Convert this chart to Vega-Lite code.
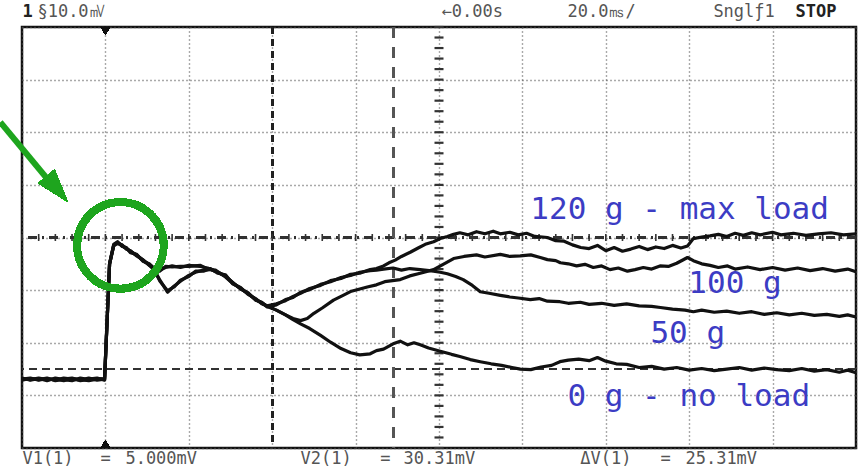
{
  "$schema": "https://vega.github.io/schema/vega-lite/v6.json",
  "width": 834,
  "height": 421,
  "autosize": {"type": "none"},
  "padding": {"left": 22, "top": 27, "right": 4, "bottom": 22},
  "background": "white",
  "config": {
    "view": {"stroke": "#111", "strokeWidth": 2.5},
    "axis": {"gridColor": "#555", "gridDash": [1, 3], "gridWidth": 1.4, "gridOpacity": 1, "labels": false, "ticks": false, "domain": false, "title": null}
  },
  "datasets": {
    "traces": [
      {"s":"0 g","t":-20,"v":3.3},{"s":"0 g","t":-18,"v":2.9},{"s":"0 g","t":-16,"v":3.2},{"s":"0 g","t":-14,"v":2.8},{"s":"0 g","t":-12,"v":3.3},{"s":"0 g","t":-10,"v":3.0},{"s":"0 g","t":-8,"v":2.8},{"s":"0 g","t":-6,"v":3.3},{"s":"0 g","t":-4,"v":3.0},{"s":"0 g","t":-2,"v":3.2},{"s":"0 g","t":-0.2,"v":3.0},{"s":"0 g","t":0.4,"v":14},{"s":"0 g","t":1.0,"v":25},{"s":"0 g","t":2.0,"v":28.6},{"s":"0 g","t":2.9,"v":29.1},{"s":"0 g","t":4.0,"v":28.4},{"s":"0 g","t":5.0,"v":28.0},{"s":"0 g","t":6.0,"v":27.3},{"s":"0 g","t":7.5,"v":26.7},{"s":"0 g","t":9.0,"v":25.6},{"s":"0 g","t":10.5,"v":24.9},{"s":"0 g","t":11.5,"v":24.1},
      {"s":"0 g","t":13.0,"v":22.0},{"s":"0 g","t":14.9,"v":19.6},{"s":"0 g","t":16.5,"v":20.8},{"s":"0 g","t":18.0,"v":21.7},{"s":"0 g","t":20.0,"v":22.8},{"s":"0 g","t":21.6,"v":23.4},{"s":"0 g","t":23.5,"v":23.8},{"s":"0 g","t":25.2,"v":23.9},{"s":"0 g","t":27,"v":23.4},{"s":"0 g","t":28.8,"v":22.7},
      {"s":"0 g","t":30.5,"v":21.4},{"s":"0 g","t":32.4,"v":20.3},{"s":"0 g","t":34.2,"v":19.4},{"s":"0 g","t":36.0,"v":18.2},{"s":"0 g","t":37.5,"v":17.6},{"s":"0 g","t":38.8,"v":16.9},
      {"s":"0 g","t":41,"v":16.2},{"s":"0 g","t":43.2,"v":15.3},{"s":"0 g","t":45,"v":14.4},{"s":"0 g","t":46.8,"v":13.6},{"s":"0 g","t":49,"v":12.7},{"s":"0 g","t":51.6,"v":11.4},{"s":"0 g","t":54,"v":10.1},{"s":"0 g","t":56.5,"v":8.9},{"s":"0 g","t":58.8,"v":8.1},{"s":"0 g","t":61,"v":7.7},{"s":"0 g","t":63.5,"v":7.9},{"s":"0 g","t":65,"v":8.5},{"s":"0 g","t":66.7,"v":8.8},{"s":"0 g","t":69,"v":9.8},{"s":"0 g","t":70.7,"v":10.3},{"s":"0 g","t":72.5,"v":9.6},{"s":"0 g","t":74,"v":10.0},{"s":"0 g","t":75.5,"v":9.6},{"s":"0 g","t":77.5,"v":9.0},{"s":"0 g","t":80.3,"v":8.4},{"s":"0 g","t":83,"v":7.8},{"s":"0 g","t":85,"v":7.4},{"s":"0 g","t":87.5,"v":6.8},{"s":"0 g","t":89.9,"v":6.4},{"s":"0 g","t":92.5,"v":6.0},{"s":"0 g","t":95,"v":5.7},{"s":"0 g","t":97.5,"v":5.3},{"s":"0 g","t":99.5,"v":5.0},{"s":"0 g","t":102,"v":4.9},{"s":"0 g","t":104.5,"v":5.4},{"s":"0 g","t":107,"v":5.7},{"s":"0 g","t":109,"v":6.4},{"s":"0 g","t":111,"v":6.7},{"s":"0 g","t":113.5,"v":6.9},{"s":"0 g","t":116,"v":6.6},{"s":"0 g","t":118,"v":7.2},{"s":"0 g","t":120,"v":6.5},{"s":"0 g","t":122.5,"v":6.0},{"s":"0 g","t":125,"v":5.9},{"s":"0 g","t":128,"v":5.3},{"s":"0 g","t":131,"v":5.5},{"s":"0 g","t":134,"v":5.0},{"s":"0 g","t":137,"v":5.3},{"s":"0 g","t":140,"v":4.8},{"s":"0 g","t":143,"v":5.1},{"s":"0 g","t":146,"v":4.7},{"s":"0 g","t":149,"v":5.0},{"s":"0 g","t":152,"v":5.3},{"s":"0 g","t":155,"v":4.8},{"s":"0 g","t":158,"v":5.2},{"s":"0 g","t":161,"v":4.9},{"s":"0 g","t":164,"v":4.7},{"s":"0 g","t":167,"v":5.1},{"s":"0 g","t":170,"v":4.6},{"s":"0 g","t":173,"v":4.9},{"s":"0 g","t":176,"v":4.4},{"s":"0 g","t":178,"v":4.8},{"s":"0 g","t":180,"v":4.3},

      {"s":"100 g","t":-20,"v":3.1},{"s":"100 g","t":-18,"v":3.3},{"s":"100 g","t":-16,"v":2.9},{"s":"100 g","t":-14,"v":3.2},{"s":"100 g","t":-12,"v":2.9},{"s":"100 g","t":-10,"v":3.3},{"s":"100 g","t":-8,"v":3.1},{"s":"100 g","t":-6,"v":2.9},{"s":"100 g","t":-4,"v":3.3},{"s":"100 g","t":-2,"v":2.9},{"s":"100 g","t":-0.2,"v":3.1},{"s":"100 g","t":0.4,"v":14},{"s":"100 g","t":1.0,"v":25},{"s":"100 g","t":2.0,"v":28.4},{"s":"100 g","t":2.9,"v":28.9},{"s":"100 g","t":4.0,"v":28.6},{"s":"100 g","t":5.0,"v":27.8},{"s":"100 g","t":6.0,"v":27.5},{"s":"100 g","t":7.5,"v":26.5},{"s":"100 g","t":9.0,"v":25.8},{"s":"100 g","t":10.5,"v":24.7},{"s":"100 g","t":11.5,"v":24.2},
      {"s":"100 g","t":13.0,"v":21.8},{"s":"100 g","t":14.9,"v":19.9},{"s":"100 g","t":16.5,"v":20.6},{"s":"100 g","t":18.0,"v":21.9},{"s":"100 g","t":20.0,"v":22.6},{"s":"100 g","t":21.6,"v":23.6},{"s":"100 g","t":23.5,"v":23.6},{"s":"100 g","t":25.2,"v":24.1},{"s":"100 g","t":27,"v":23.2},{"s":"100 g","t":28.8,"v":22.9},
      {"s":"100 g","t":30.5,"v":21.2},{"s":"100 g","t":32.4,"v":20.5},{"s":"100 g","t":34.2,"v":19.2},{"s":"100 g","t":36.0,"v":18.4},{"s":"100 g","t":37.5,"v":17.4},{"s":"100 g","t":38.8,"v":17.0},
      {"s":"100 g","t":41,"v":16.2},{"s":"100 g","t":43.2,"v":15.3},{"s":"100 g","t":45,"v":14.6},{"s":"100 g","t":46.8,"v":14.2},{"s":"100 g","t":48.4,"v":14.6},{"s":"100 g","t":50,"v":15.6},{"s":"100 g","t":52,"v":16.6},{"s":"100 g","t":54.7,"v":18.1},{"s":"100 g","t":57,"v":19.0},{"s":"100 g","t":59,"v":19.8},{"s":"100 g","t":62.8,"v":20.6},{"s":"100 g","t":65,"v":21.0},{"s":"100 g","t":67,"v":21.6},{"s":"100 g","t":70.7,"v":22.0},{"s":"100 g","t":73,"v":22.7},{"s":"100 g","t":75.5,"v":23.2},{"s":"100 g","t":78.7,"v":23.9},{"s":"100 g","t":81,"v":24.9},{"s":"100 g","t":83.5,"v":26.0},{"s":"100 g","t":86,"v":26.4},{"s":"100 g","t":89,"v":26.7},{"s":"100 g","t":91,"v":26.3},{"s":"100 g","t":94.7,"v":26.8},{"s":"100 g","t":97,"v":26.4},{"s":"100 g","t":99.5,"v":26.5},{"s":"100 g","t":102,"v":26.7},{"s":"100 g","t":104.3,"v":26.2},{"s":"100 g","t":106,"v":25.8},{"s":"100 g","t":108,"v":25.6},{"s":"100 g","t":109.1,"v":25.2},{"s":"100 g","t":111,"v":25.0},{"s":"100 g","t":113,"v":24.6},{"s":"100 g","t":115,"v":24.9},{"s":"100 g","t":117,"v":24.3},{"s":"100 g","t":119,"v":24.6},{"s":"100 g","t":121,"v":23.9},{"s":"100 g","t":123,"v":24.2},{"s":"100 g","t":125.2,"v":23.6},{"s":"100 g","t":127,"v":23.9},{"s":"100 g","t":129,"v":24.3},{"s":"100 g","t":131,"v":24.0},{"s":"100 g","t":133,"v":24.6},{"s":"100 g","t":135,"v":24.5},{"s":"100 g","t":137,"v":25.1},{"s":"100 g","t":139.6,"v":26.2},{"s":"100 g","t":141,"v":25.6},{"s":"100 g","t":143,"v":25.0},{"s":"100 g","t":145,"v":24.7},{"s":"100 g","t":147,"v":24.3},{"s":"100 g","t":149.2,"v":24.6},{"s":"100 g","t":151,"v":24.0},{"s":"100 g","t":154,"v":24.4},{"s":"100 g","t":157,"v":23.9},{"s":"100 g","t":160,"v":24.3},{"s":"100 g","t":163,"v":23.8},{"s":"100 g","t":166,"v":24.2},{"s":"100 g","t":169,"v":23.7},{"s":"100 g","t":172,"v":24.1},{"s":"100 g","t":175,"v":23.6},{"s":"100 g","t":178,"v":24.0},{"s":"100 g","t":180,"v":23.5},

      {"s":"50 g","t":-20,"v":2.9},{"s":"50 g","t":-18,"v":3.2},{"s":"50 g","t":-16,"v":3.0},{"s":"50 g","t":-14,"v":3.3},{"s":"50 g","t":-12,"v":2.8},{"s":"50 g","t":-10,"v":3.1},{"s":"50 g","t":-8,"v":3.3},{"s":"50 g","t":-6,"v":2.8},{"s":"50 g","t":-4,"v":3.1},{"s":"50 g","t":-2,"v":3.3},{"s":"50 g","t":-0.2,"v":2.9},{"s":"50 g","t":0.4,"v":14},{"s":"50 g","t":1.0,"v":25},{"s":"50 g","t":2.0,"v":28.7},{"s":"50 g","t":2.9,"v":29.2},{"s":"50 g","t":4.0,"v":28.3},{"s":"50 g","t":5.0,"v":28.1},{"s":"50 g","t":6.0,"v":27.1},{"s":"50 g","t":7.5,"v":26.8},{"s":"50 g","t":9.0,"v":25.5},{"s":"50 g","t":10.5,"v":25.0},{"s":"50 g","t":11.5,"v":24.3},
      {"s":"50 g","t":13.0,"v":23.8},{"s":"50 g","t":14.4,"v":24.3},{"s":"50 g","t":16,"v":24.6},{"s":"50 g","t":18,"v":24.3},{"s":"50 g","t":20,"v":24.7},{"s":"50 g","t":22.8,"v":24.5},{"s":"50 g","t":24.5,"v":24.2},{"s":"50 g","t":26.4,"v":23.6},{"s":"50 g","t":28.8,"v":22.6},
      {"s":"50 g","t":30.5,"v":21.5},{"s":"50 g","t":32.4,"v":20.2},{"s":"50 g","t":34.2,"v":19.5},{"s":"50 g","t":36.0,"v":18.1},{"s":"50 g","t":37.5,"v":17.7},{"s":"50 g","t":38.8,"v":16.8},
      {"s":"50 g","t":41,"v":17.2},{"s":"50 g","t":43.2,"v":18.2},{"s":"50 g","t":45,"v":18.6},{"s":"50 g","t":46.8,"v":19.6},{"s":"50 g","t":49,"v":20.1},{"s":"50 g","t":51.6,"v":21.1},{"s":"50 g","t":54,"v":21.6},{"s":"50 g","t":56.5,"v":22.4},{"s":"50 g","t":58.8,"v":22.8},{"s":"50 g","t":61,"v":23.4},{"s":"50 g","t":63.5,"v":23.7},
      {"s":"50 g","t":65,"v":23.8},{"s":"50 g","t":66.7,"v":24.0},{"s":"50 g","t":69,"v":24.2},{"s":"50 g","t":71,"v":23.8},{"s":"50 g","t":73,"v":24.1},{"s":"50 g","t":75.5,"v":23.9},{"s":"50 g","t":78.7,"v":23.6},{"s":"50 g","t":80.3,"v":23.4},{"s":"50 g","t":82,"v":23.1},{"s":"50 g","t":84,"v":22.6},{"s":"50 g","t":85.8,"v":22.0},{"s":"50 g","t":88,"v":20.9},{"s":"50 g","t":89.9,"v":19.7},{"s":"50 g","t":92,"v":19.4},{"s":"50 g","t":94.7,"v":19.0},{"s":"50 g","t":97,"v":18.7},{"s":"50 g","t":99,"v":18.5},{"s":"50 g","t":101.9,"v":18.2},{"s":"50 g","t":104,"v":18.4},{"s":"50 g","t":106,"v":17.9},{"s":"50 g","t":109,"v":17.8},{"s":"50 g","t":111,"v":17.5},{"s":"50 g","t":113.9,"v":17.7},{"s":"50 g","t":116,"v":17.3},{"s":"50 g","t":119,"v":17.5},{"s":"50 g","t":122,"v":17.1},{"s":"50 g","t":125,"v":17.4},{"s":"50 g","t":128,"v":17.0},{"s":"50 g","t":131,"v":16.9},{"s":"50 g","t":133.1,"v":16.7},{"s":"50 g","t":136,"v":16.4},{"s":"50 g","t":139,"v":16.2},{"s":"50 g","t":141,"v":15.9},{"s":"50 g","t":143,"v":16.2},{"s":"50 g","t":146,"v":15.8},{"s":"50 g","t":149,"v":16.0},{"s":"50 g","t":152,"v":15.6},{"s":"50 g","t":155,"v":15.9},{"s":"50 g","t":158,"v":15.4},{"s":"50 g","t":161,"v":15.7},{"s":"50 g","t":164,"v":15.3},{"s":"50 g","t":167,"v":15.6},{"s":"50 g","t":170,"v":15.2},{"s":"50 g","t":173,"v":15.4},{"s":"50 g","t":176,"v":15.0},{"s":"50 g","t":178,"v":15.3},{"s":"50 g","t":180,"v":14.9},

      {"s":"120 g","t":-20,"v":3.2},{"s":"120 g","t":-18,"v":3.0},{"s":"120 g","t":-16,"v":3.3},{"s":"120 g","t":-14,"v":3.0},{"s":"120 g","t":-12,"v":3.1},{"s":"120 g","t":-10,"v":2.8},{"s":"120 g","t":-8,"v":3.2},{"s":"120 g","t":-6,"v":3.0},{"s":"120 g","t":-4,"v":2.8},{"s":"120 g","t":-2,"v":3.1},{"s":"120 g","t":-0.2,"v":3.2},{"s":"120 g","t":0.4,"v":14},{"s":"120 g","t":1.0,"v":25},{"s":"120 g","t":2.0,"v":28.5},{"s":"120 g","t":2.9,"v":29.0},{"s":"120 g","t":4.0,"v":28.5},{"s":"120 g","t":5.0,"v":27.9},{"s":"120 g","t":6.0,"v":27.4},{"s":"120 g","t":7.5,"v":26.6},{"s":"120 g","t":9.0,"v":25.7},{"s":"120 g","t":10.5,"v":24.8},{"s":"120 g","t":11.5,"v":24.0},
      {"s":"120 g","t":13.0,"v":23.6},{"s":"120 g","t":14.4,"v":24.5},{"s":"120 g","t":16,"v":24.4},{"s":"120 g","t":18,"v":24.5},{"s":"120 g","t":20,"v":24.5},{"s":"120 g","t":22.8,"v":24.7},{"s":"120 g","t":24.5,"v":24.0},{"s":"120 g","t":26.4,"v":23.8},{"s":"120 g","t":28.8,"v":22.5},
      {"s":"120 g","t":30.5,"v":21.3},{"s":"120 g","t":32.4,"v":20.4},{"s":"120 g","t":34.2,"v":19.3},{"s":"120 g","t":36.0,"v":18.3},{"s":"120 g","t":37.5,"v":17.5},{"s":"120 g","t":38.8,"v":17.0},
      {"s":"120 g","t":41,"v":17.4},{"s":"120 g","t":43.2,"v":18.0},{"s":"120 g","t":45,"v":18.8},{"s":"120 g","t":46.8,"v":19.4},{"s":"120 g","t":49,"v":20.3},{"s":"120 g","t":51.6,"v":20.9},{"s":"120 g","t":54,"v":21.8},{"s":"120 g","t":56.5,"v":22.2},{"s":"120 g","t":58.8,"v":23.0},{"s":"120 g","t":61,"v":23.2},{"s":"120 g","t":63.5,"v":23.9},
      {"s":"120 g","t":65,"v":24.1},{"s":"120 g","t":66.7,"v":24.6},{"s":"120 g","t":68,"v":25.2},{"s":"120 g","t":69.5,"v":25.7},{"s":"120 g","t":71,"v":26.4},{"s":"120 g","t":73.1,"v":27.2},{"s":"120 g","t":75,"v":28.0},{"s":"120 g","t":76.7,"v":28.7},{"s":"120 g","t":78.7,"v":29.2},{"s":"120 g","t":80.3,"v":29.8},{"s":"120 g","t":82,"v":30.2},{"s":"120 g","t":83.5,"v":30.6},{"s":"120 g","t":85,"v":30.9},{"s":"120 g","t":87,"v":30.5},{"s":"120 g","t":89,"v":31.1},{"s":"120 g","t":91,"v":30.7},{"s":"120 g","t":93,"v":31.2},{"s":"120 g","t":94.7,"v":30.7},{"s":"120 g","t":97,"v":31.0},{"s":"120 g","t":99,"v":30.5},{"s":"120 g","t":101,"v":30.8},{"s":"120 g","t":103,"v":30.2},{"s":"120 g","t":106,"v":30.0},{"s":"120 g","t":108,"v":29.4},{"s":"120 g","t":110,"v":29.3},{"s":"120 g","t":112,"v":28.6},{"s":"120 g","t":114,"v":28.1},{"s":"120 g","t":116,"v":27.9},{"s":"120 g","t":118,"v":28.5},{"s":"120 g","t":120,"v":27.5},{"s":"120 g","t":122,"v":28.1},{"s":"120 g","t":124,"v":27.4},{"s":"120 g","t":126,"v":27.8},{"s":"120 g","t":128,"v":28.3},{"s":"120 g","t":130,"v":27.7},{"s":"120 g","t":132,"v":28.2},{"s":"120 g","t":134,"v":27.9},{"s":"120 g","t":136,"v":28.5},{"s":"120 g","t":138,"v":28.0},{"s":"120 g","t":139.6,"v":28.4},{"s":"120 g","t":141,"v":29.8},{"s":"120 g","t":143,"v":30.1},{"s":"120 g","t":145,"v":30.3},{"s":"120 g","t":147,"v":30.6},{"s":"120 g","t":149,"v":30.2},{"s":"120 g","t":151,"v":30.8},{"s":"120 g","t":153,"v":30.4},{"s":"120 g","t":155,"v":30.9},{"s":"120 g","t":157,"v":30.5},{"s":"120 g","t":160,"v":31.0},{"s":"120 g","t":162,"v":30.5},{"s":"120 g","t":165,"v":30.8},{"s":"120 g","t":168,"v":30.4},{"s":"120 g","t":171,"v":30.7},{"s":"120 g","t":174,"v":30.9},{"s":"120 g","t":177,"v":30.5},{"s":"120 g","t":180,"v":30.7}
    ],
    "vticks": [
      {"t":80,"v":-10},{"t":80,"v":-8},{"t":80,"v":-6},{"t":80,"v":-4},{"t":80,"v":-2},{"t":80,"v":0},{"t":80,"v":2},{"t":80,"v":4},{"t":80,"v":6},{"t":80,"v":8},{"t":80,"v":10},{"t":80,"v":12},{"t":80,"v":14},{"t":80,"v":16},{"t":80,"v":18},{"t":80,"v":20},{"t":80,"v":22},{"t":80,"v":24},{"t":80,"v":26},{"t":80,"v":28},{"t":80,"v":30},{"t":80,"v":32},{"t":80,"v":34},{"t":80,"v":36},{"t":80,"v":38},{"t":80,"v":40},{"t":80,"v":42},{"t":80,"v":44},{"t":80,"v":46},{"t":80,"v":48},{"t":80,"v":50},{"t":80,"v":52},{"t":80,"v":54},{"t":80,"v":56},{"t":80,"v":58},{"t":80,"v":60},{"t":80,"v":62},{"t":80,"v":64},{"t":80,"v":66},{"t":80,"v":68},{"t":80,"v":70}
    ],
    "hticks": [
      {"v":30,"t":-20},{"v":30,"t":-16},{"v":30,"t":-12},{"v":30,"t":-8},{"v":30,"t":-4},{"v":30,"t":0},{"v":30,"t":4},{"v":30,"t":8},{"v":30,"t":12},{"v":30,"t":16},{"v":30,"t":20},{"v":30,"t":24},{"v":30,"t":28},{"v":30,"t":32},{"v":30,"t":36},{"v":30,"t":40},{"v":30,"t":44},{"v":30,"t":48},{"v":30,"t":52},{"v":30,"t":56},{"v":30,"t":60},{"v":30,"t":64},{"v":30,"t":68},{"v":30,"t":72},{"v":30,"t":76},{"v":30,"t":80},{"v":30,"t":84},{"v":30,"t":88},{"v":30,"t":92},{"v":30,"t":96},{"v":30,"t":100},{"v":30,"t":104},{"v":30,"t":108},{"v":30,"t":112},{"v":30,"t":116},{"v":30,"t":120},{"v":30,"t":124},{"v":30,"t":128},{"v":30,"t":132},{"v":30,"t":136},{"v":30,"t":140},{"v":30,"t":144},{"v":30,"t":148},{"v":30,"t":152},{"v":30,"t":156},{"v":30,"t":160},{"v":30,"t":164},{"v":30,"t":168},{"v":30,"t":172},{"v":30,"t":176},{"v":30,"t":180}
    ],
    "labels": [
      {"t":101.9,"v":35.3,"label":"120 g - max load"},
      {"t":139.8,"v":21.1,"label":"100 g"},
      {"t":130.7,"v":11.7,"label":"50 g"},
      {"t":110.8,"v":-0.4,"label":"0 g - no load"}
    ],
    "status": [
      {"t":-16.3,"v":72.9,"label":"§10.0㎷"},
      {"t":80.6,"v":72.9,"label":"←0.00s"},
      {"t":110.8,"v":72.9,"label":"20.0㎳/"},
      {"t":145.8,"v":72.9,"label":"Snglƒ1"},
      {"t":-19.9,"v":-12.1,"label":"V1(1)"},
      {"t":-1.2,"v":-12.1,"label":"="},
      {"t":4.8,"v":-12.1,"label":"5.000mV"},
      {"t":46.8,"v":-12.1,"label":"V2(1)"},
      {"t":65.9,"v":-12.1,"label":"="},
      {"t":71.5,"v":-12.1,"label":"30.31mV"},
      {"t":113.9,"v":-12.1,"label":"ΔV(1)"},
      {"t":133.1,"v":-12.1,"label":"="},
      {"t":139.1,"v":-12.1,"label":"25.31mV"}
    ],
    "statusBold": [
      {"t":-19.9,"v":72.9,"label":"1"},
      {"t":165.5,"v":72.9,"label":"STOP"}
    ],
    "arrow": [
      {"t":-25.2,"v":51.9},
      {"t":-14.3,"v":41.5}
    ]
  },
  "data": {"name": "traces"},
  "encoding": {
    "x": {"field": "t", "type": "quantitative", "scale": {"domain": [-20, 180], "nice": false, "zero": false},
          "axis": {"grid": true, "values": [-20, 0, 20, 40, 60, 80, 100, 120, 140, 160, 180]}},
    "y": {"field": "v", "type": "quantitative", "scale": {"domain": [-10, 70], "nice": false, "zero": false},
          "axis": {"grid": true, "values": [-10, 0, 10, 20, 30, 40, 50, 60, 70]}}
  },
  "layer": [
    {"mark": {"type": "rule", "stroke": "#333", "strokeWidth": 1.5, "strokeDash": [8, 5]}, "encoding": {"x": null, "y": {"datum": 5}}},
    {"mark": {"type": "rule", "stroke": "#333", "strokeWidth": 1.5, "strokeDash": [9, 5, 2, 5]}, "encoding": {"x": null, "y": {"datum": 30}}},
    {"mark": {"type": "rule", "stroke": "#222", "strokeWidth": 2, "strokeDash": [7, 5]}, "encoding": {"y": null, "x": {"datum": 40}}},
    {"mark": {"type": "rule", "stroke": "#555", "strokeWidth": 2.5, "strokeDash": [11, 9]}, "encoding": {"y": null, "x": {"datum": 69.1}}},
    {"data": {"name": "vticks"}, "mark": {"type": "tick", "orient": "horizontal", "size": 9, "thickness": 2.2, "color": "#333", "opacity": 1}},
    {"data": {"name": "hticks"}, "mark": {"type": "tick", "orient": "vertical", "size": 7, "thickness": 1.6, "color": "#333", "opacity": 1}},
    {"mark": {"type": "line", "stroke": "#111", "strokeWidth": 3.2, "strokeJoin": "round", "interpolate": "linear"}, "encoding": {"detail": {"field": "s"}}},
    {"mark": {"type": "point", "shape": "triangle-down", "filled": true, "color": "#111", "size": 70, "opacity": 1}, "encoding": {"x": {"datum": 0}, "y": {"datum": 69.2}}},
    {"mark": {"type": "point", "shape": "triangle-up", "filled": true, "color": "#111", "size": 70, "opacity": 1}, "encoding": {"x": {"datum": 0}, "y": {"datum": -9.2}}},
    {"data": {"name": "labels"}, "mark": {"type": "text", "align": "left", "baseline": "middle", "font": "DejaVu Sans Mono", "fontSize": 31, "color": "#3c3cc4"}, "encoding": {"text": {"field": "label"}}},
    {"data": {"name": "status"}, "mark": {"type": "text", "align": "left", "baseline": "middle", "font": "DejaVu Sans Mono", "fontSize": 17, "color": "#555"}, "encoding": {"text": {"field": "label"}}},
    {"data": {"name": "statusBold"}, "mark": {"type": "text", "align": "left", "baseline": "middle", "font": "DejaVu Sans Mono", "fontSize": 17, "fontWeight": "bold", "color": "#222"}, "encoding": {"text": {"field": "label"}}},
    {"mark": {"type": "point", "shape": "circle", "filled": false, "stroke": "#1ea51e", "strokeWidth": 7, "size": 7500, "opacity": 1}, "encoding": {"x": {"datum": 3.6}, "y": {"datum": 28.5}}},
    {"data": {"name": "arrow"}, "mark": {"type": "line", "stroke": "#1ea51e", "strokeWidth": 6, "strokeCap": "butt"}, "encoding": {}},
    {"mark": {"type": "point", "shape": "M0,-1L0.64,1L-0.64,1Z", "filled": true, "color": "#1ea51e", "size": 1100, "angle": 140, "opacity": 1}, "encoding": {"x": {"datum": -11.6}, "y": {"datum": 39.2}}}
  ]
}
